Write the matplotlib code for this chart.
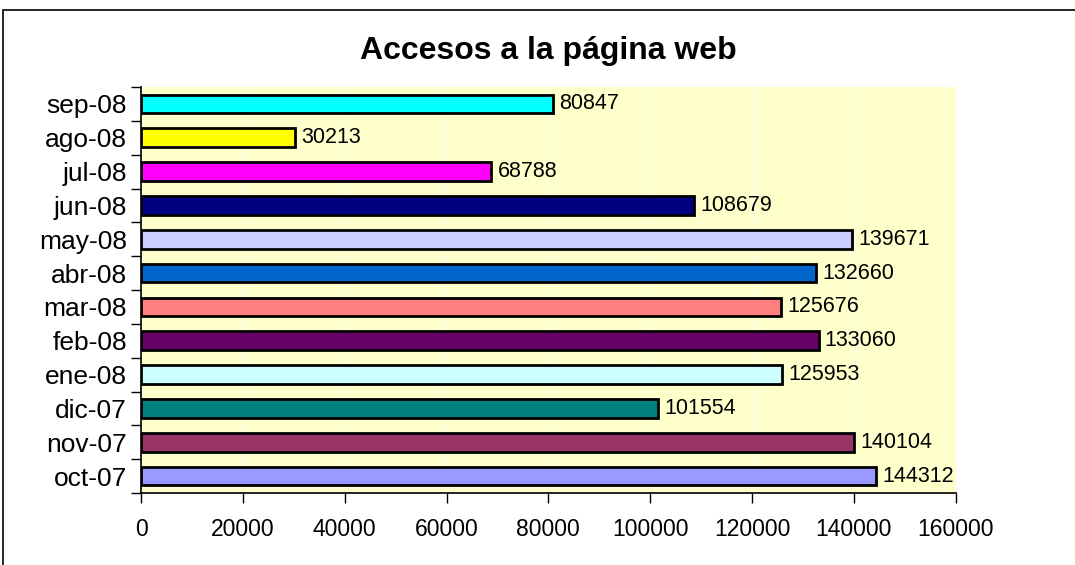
import matplotlib
matplotlib.use("Agg")
import matplotlib.pyplot as plt
from matplotlib.patches import Rectangle

months = ["oct-07", "nov-07", "dic-07", "ene-08", "feb-08", "mar-08",
          "abr-08", "may-08", "jun-08", "jul-08", "ago-08", "sep-08"]
visits = [144312, 140104, 101554, 125953, 133060, 125676,
          132660, 139671, 108679, 68788, 30213, 80847]
colors = ["#9999FF", "#993366", "#008080", "#CCFFFF", "#660066", "#FF8080",
          "#0066CC", "#CCCCFF", "#000080", "#FF00FF", "#FFFF00", "#00FFFF"]
xticks = [0, 20000, 40000, 60000, 80000, 100000, 120000, 140000, 160000]

plt.rcParams["font.family"] = ["Liberation Sans", "DejaVu Sans"]

fig = plt.figure(figsize=(10.75, 5.65), dpi=100)
ax = fig.add_axes([0.1312, 0.1274, 0.7578, 0.7186])
ax.set_facecolor("#FFFFCC")

# frame around the whole chart (only top/left visible in the original)
fig.patches.append(Rectangle((3 / 1075, -0.1), 1.2, 1 - 10 / 565 + 0.1,
                             transform=fig.transFigure, fill=False,
                             edgecolor="black", linewidth=1.2))

pos = list(range(len(months)))
ax.barh(pos, visits, height=0.55, color=colors, edgecolor="black", linewidth=2, zorder=3)
for p, v in zip(pos, visits):
    ax.text(v + 1200, p, str(v), va="center", ha="left", fontsize=15.5, zorder=4)

ax.set_xlim(0, 160000)
ax.set_ylim(-0.5, len(months) - 0.5)
ax.set_xticks(xticks)
ax.set_xticklabels([str(t) for t in xticks], fontsize=16.5)
ax.tick_params(axis="x", direction="out", length=7, width=1, pad=11)

# category labels centred, ticks on the boundaries
ax.set_yticks(pos)
ax.set_yticklabels(months, fontsize=19)
ax.tick_params(axis="y", length=0, pad=10)
ax.set_yticks([p - 0.5 for p in pos] + [len(months) - 0.5], minor=True)
ax.tick_params(axis="y", which="minor", direction="out", length=7, width=1)

ax.grid(axis="x", color="white", linewidth=0.8, alpha=0.7, zorder=1)
ax.set_axisbelow(True)
for side in ["top", "right"]:
    ax.spines[side].set_visible(False)
ax.spines["left"].set_linewidth(1.2)
ax.spines["bottom"].set_linewidth(1.2)

fig.text(0.51, 0.91, "Accesos a la página web", ha="center", va="center",
         fontsize=23, fontweight="bold")

fig.savefig("out.png", dpi=100, facecolor="white")
plt.close(fig)
